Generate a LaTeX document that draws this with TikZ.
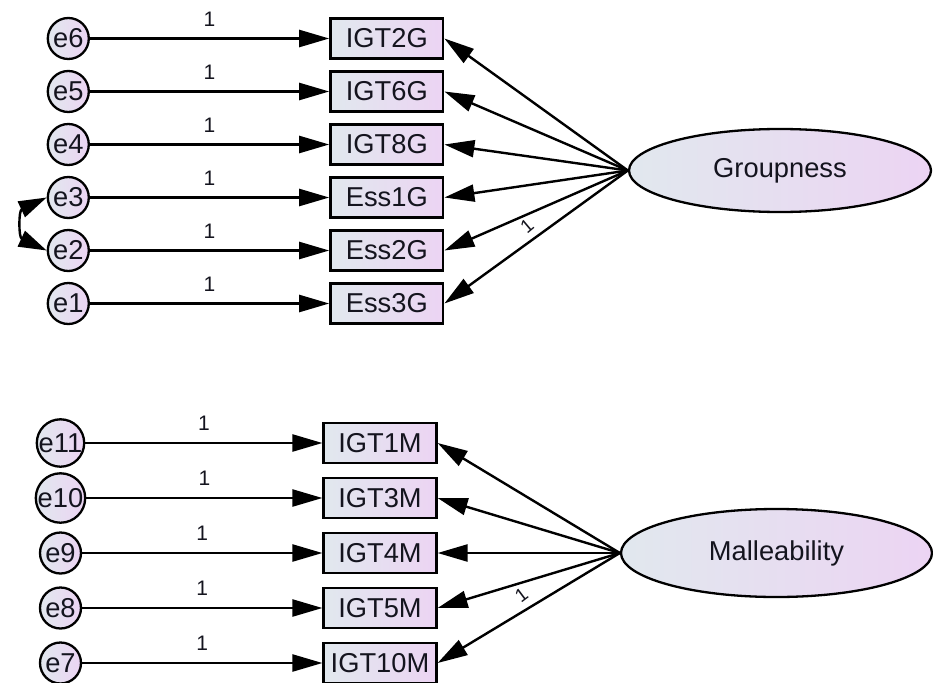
\documentclass[tikz,border=0pt]{standalone}
\usepackage{fontspec}
\setmainfont{Liberation Sans}
\usetikzlibrary{arrows.meta,shapes.geometric}
\definecolor{shL}{RGB}{225,232,238}
\definecolor{shR}{RGB}{236,212,243}
\definecolor{ink}{RGB}{20,20,30}
\begin{document}
\begin{tikzpicture}[x=1pt,y=-1pt,
  bigfont/.style={font=\fontsize{27.3}{30}\selectfont, text=ink},
  obs/.style={draw, line width=2.7pt, left color=shL, right color=shR, minimum width=112.5pt, minimum height=40pt, inner sep=0pt, bigfont},
  err/.style={circle, draw, line width=2.3pt, left color=shL, right color=shR, minimum size=41pt, inner sep=0pt, bigfont},
  lat/.style={ellipse, draw, line width=2.3pt, left color=shL, right color=shR, inner sep=0pt, bigfont},
  reg/.style={-{Triangle[length=30pt,width=17pt]}, line width=2.4pt},
  cov/.style={{Triangle[length=28pt,width=17pt]}-{Triangle[length=28pt,width=17pt]}, line width=2.4pt},
  one/.style={font=\fontsize{21}{24}\selectfont, text=ink, inner sep=0pt}
]
\useasboundingbox (0,0) rectangle (933,682);

% ---------- Groupness block ----------
\node[lat, minimum width=302pt, minimum height=83pt] (G) at (780,170.5) {Groupness};

\foreach \e/\b/\y in {e6/IGT2G/38.5, e5/IGT6G/91.5, e4/IGT8G/144.5, e3/Ess1G/197.5, e2/Ess2G/250.5, e1/Ess3G/303.5}{
  \node[err] (\e) at (68.3,\y) {\e};
  \node[obs] (\b) at (386.8,\y) {\b};
  \draw[reg] (\e) -- node[one, yshift=19.5pt] (l\e) {1} (\b);
  \draw[reg] (G.west) -- (\b.east);
}
\node[one, font=\fontsize{19}{22}\selectfont, rotate=40] (lG) at (527,226) {1};

\draw[cov] (e3.west) to[out=205, in=155, looseness=1.5] (e2.west);

% ---------- Malleability block ----------
\node[lat, minimum width=311pt, minimum height=88pt] (M) at (776.5,553) {Malleability};

\foreach \e/\b/\y in {e11/IGT1M/443, e10/IGT3M/498, e9/IGT4M/553, e8/IGT5M/608, e7/IGT10M/663}{
  \node[err] (\e) at (60.5,\y) {\e};
  \node[obs] (\b) at (380,\y) {\b};
  \draw[reg] (\e) -- node[one, yshift=19.5pt] (l\e) {1} (\b);
  \draw[reg] (M.west) -- (\b.east);
}
\node[one, font=\fontsize{19}{22}\selectfont, rotate=37] (lM) at (521.5,595.5) {1};
\end{tikzpicture}
\end{document}
